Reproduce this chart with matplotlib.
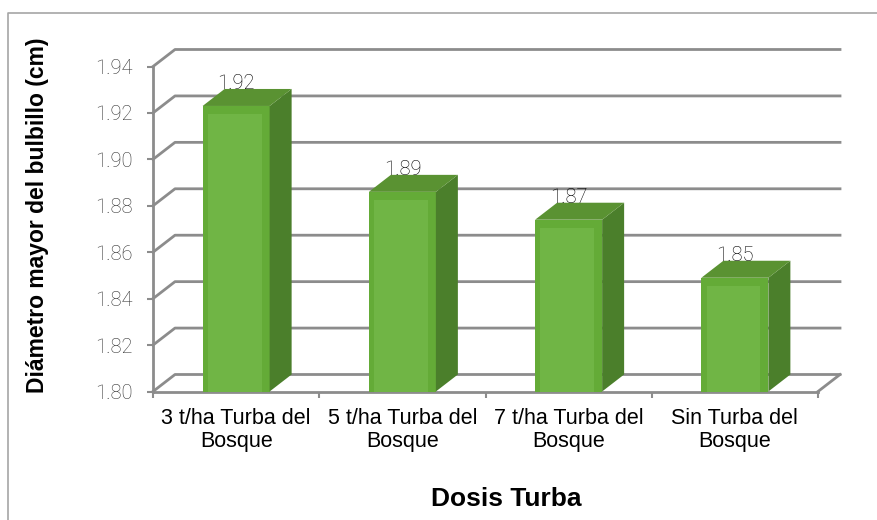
import matplotlib
matplotlib.use("Agg")
import matplotlib.pyplot as plt
from matplotlib.patches import Polygon, Rectangle
from matplotlib.lines import Line2D

categories = ["3 t/ha Turba del\nBosque", "5 t/ha Turba del\nBosque",
              "7 t/ha Turba del\nBosque", "Sin Turba del\nBosque"]
diametro = [1.923, 1.886, 1.874, 1.849]
y_ticks = [1.80, 1.82, 1.84, 1.86, 1.88, 1.90, 1.92, 1.94]

GRID = "#8c8c8c"
FRONT = "#64ab37"
FRONT_IN = "#70b545"
SIDE = "#4b7f2b"
TOP = "#5a9232"
NUM_FONT = dict(family="Roboto", weight="light")

fig = plt.figure(figsize=(8.77, 5.20), dpi=100)
ax = fig.add_axes([153 / 877, 1 - 391.5 / 520, 665 / 877, 325 / 520])

x0, x1 = -0.5, len(categories) - 0.5
ymin, ymax = y_ticks[0], y_ticks[-1]
ax.set_xlim(x0, x1)
ax.set_ylim(ymin, ymax)

# depth offset of the 3d box, in data units
dx = 22 / 166.25
dy = 17 / (325 / 0.14)
bw = 0.403

# back wall + left wall grid
for v in y_ticks:
    ax.add_line(Line2D([x0, x0 + dx, x1 + dx], [v, v + dy, v + dy],
                       color=GRID, lw=2, clip_on=False, zorder=1))
# right floor edge
ax.add_line(Line2D([x1, x1 + dx], [ymin, ymin + dy], color=GRID, lw=2,
                   clip_on=False, zorder=1))

for i, v in enumerate(diametro):
    l, r = i - bw / 2, i + bw / 2
    ax.add_patch(Rectangle((l, ymin), bw, v - ymin, facecolor=FRONT,
                           edgecolor="none", clip_on=False, zorder=3))
    # lighter inner part of the front face
    ax.add_patch(Rectangle((l + bw * 0.08, ymin), bw * 0.8, v - ymin - dy * 0.5,
                           facecolor=FRONT_IN, edgecolor="none",
                           clip_on=False, zorder=3))
    ax.add_patch(Polygon([(r, ymin), (r + dx, ymin + dy), (r + dx, v + dy), (r, v)],
                         closed=True, facecolor=SIDE, edgecolor="none",
                         clip_on=False, zorder=3))
    ax.add_patch(Polygon([(l, v), (l + dx, v + dy), (r + dx, v + dy), (r, v)],
                         closed=True, facecolor=TOP, edgecolor="none",
                         clip_on=False, zorder=3))
    ax.text(i, v + dy, f"{v:.2f}", ha="center", va="baseline", fontsize=14.5,
            color="#000000", zorder=4, **NUM_FONT)

for s in ["top", "right"]:
    ax.spines[s].set_visible(False)
for s in ["left", "bottom"]:
    ax.spines[s].set_color(GRID)
    ax.spines[s].set_linewidth(2)
    ax.spines[s].set_zorder(2)

ax.set_yticks(y_ticks)
ax.set_yticklabels([f"{t:.2f}" for t in y_ticks], fontsize=14.5, color="#333333",
                   **NUM_FONT)
ax.tick_params(axis="y", length=4.5, width=1.5, color=GRID, pad=10)

ax.set_xticks(range(len(categories)))
ax.set_xticklabels(categories, fontsize=15.5, family="Liberation Sans",
                   linespacing=1.13)
ax.set_xticks([x0 + k for k in range(len(categories) + 1)], minor=True)
ax.tick_params(axis="x", which="major", length=0, pad=12)
ax.tick_params(axis="x", which="minor", length=4.5, width=1.5, color=GRID)

fig.text(506 / 877, 1 - 499 / 520, "Dosis Turba", ha="center", va="center",
         fontsize=19, fontweight="bold", family="Liberation Sans")
fig.text(38 / 877, 1 - 215 / 520, "Diámetro mayor del bulbillo (cm)",
         rotation=90, ha="center", va="center", fontsize=16.5,
         fontweight="bold", family="Liberation Sans")

# chart frame (only left and top edges visible)
fig.add_artist(Line2D([8 / 877, 8 / 877, 1.0], [0.0, 1 - 13 / 520, 1 - 13 / 520],
                      transform=fig.transFigure, color="#a6a6a6", lw=1.2))

fig.savefig("out.png", dpi=100)
